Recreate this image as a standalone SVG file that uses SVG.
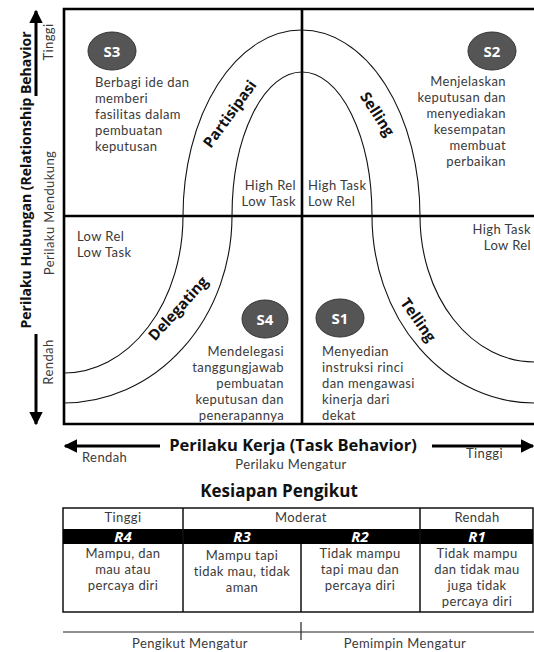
<svg xmlns="http://www.w3.org/2000/svg" width="534" height="652" viewBox="0 0 534 652">
<defs>
<style>
.t{font-family:Lato,"Open Sans",sans-serif;font-size:13px;letter-spacing:0.4px;fill:#3a3a3a}
.b{font-family:"Open Sans","Noto Sans",sans-serif;font-weight:bold;fill:#111}
.lab{font-family:"Open Sans","Noto Sans",sans-serif;font-weight:bold;font-size:15px;fill:#111}
.sc{font-family:"Open Sans","Noto Sans",sans-serif;font-weight:bold;font-size:15px;fill:#fff}
.r{font-family:"Open Sans","Noto Sans",sans-serif;font-weight:bold;font-style:italic;font-size:15px;fill:#fff}
.frame{stroke:#000;stroke-width:2.6;fill:none}
.curve{stroke:#111;stroke-width:1.1;fill:none}
.circ{fill:#555;stroke:#333;stroke-width:1}
.tab{stroke:#111;stroke-width:1.5;fill:none}
.ax{stroke:#000;stroke-width:3;fill:none}
</style>
<marker id="ah" viewBox="0 0 10 10" refX="9" refY="5" markerWidth="4.5" markerHeight="4.5" orient="auto-start-reverse" markerUnits="strokeWidth">
<path d="M0,0 L10,5 L0,10 z" fill="#000"/>
</marker>
</defs>
<rect width="534" height="652" fill="#fff"/>

<g id="connectors">
<path class="frame" d="M534,9 H64 V424 H534"/>
<path class="frame" d="M302,9 V424 M64,216 H534"/>
<path class="curve" d="M183,216 A118.5,186 0 0 1 420,216"/>
<path class="curve" d="M232,216 A70,144 0 0 1 372,216"/>
<path class="curve" d="M183,216 A119,157 0 0 1 64,373"/>
<path class="curve" d="M232,216 A168,187 0 0 1 64,403"/>
<path class="curve" d="M420,216 A114,146 0 0 0 534,362"/>
<path class="curve" d="M372,216 A162,187 0 0 0 534,403"/>
<line class="ax" x1="36" y1="96" x2="36" y2="11" marker-end="url(#ah)"/>
<line class="ax" x1="36" y1="334" x2="36" y2="424" marker-end="url(#ah)"/>
<line class="ax" x1="160" y1="446" x2="65" y2="446" marker-end="url(#ah)"/>
<line class="ax" x1="432" y1="446" x2="533" y2="446" marker-end="url(#ah)"/>
<rect class="tab" x="63" y="508" width="470" height="104"/>
<rect x="63" y="529" width="470" height="15" fill="#000"/>
<path class="tab" d="M183,508 V612 M420,508 V612 M301,544 V612"/>
<path stroke="#222" stroke-width="1.2" fill="none" d="M63,632 H534 M301,622 V640"/>
</g>

<g id="axis-y">
<text class="b" font-size="14" transform="translate(31,180) rotate(-90)" text-anchor="middle">Perilaku Hubungan (Relationship Behavior</text>
<text class="t" font-size="12" transform="translate(54,213) rotate(-90)" text-anchor="middle">Perilaku Mendukung</text>
<text class="t" font-size="10.5" transform="translate(53,42) rotate(-90)" text-anchor="middle">Tinggi</text>
<text class="t" font-size="10.5" transform="translate(53,362) rotate(-90)" text-anchor="middle">Rendah</text>
</g>

<g id="axis-x">
<text class="b" font-size="16.5" x="293" y="451" text-anchor="middle">Perilaku Kerja (Task Behavior)</text>
<text class="t" x="291" y="469" text-anchor="middle">Perilaku Mengatur</text>
<text class="t" font-size="12" x="82" y="462">Rendah</text>
<text class="t" font-size="12" x="503" y="458" text-anchor="end">Tinggi</text>
</g>

<g id="S3">
<ellipse class="circ" cx="112" cy="51" rx="24" ry="19"/>
<text class="sc" x="112" y="56.5" text-anchor="middle">S3</text>
<text class="t" x="95" y="87">Berbagi ide dan<tspan x="95" dy="16">memberi</tspan><tspan x="95" dy="16">fasilitas dalam</tspan><tspan x="95" dy="16">pembuatan</tspan><tspan x="95" dy="16">keputusan</tspan></text>
</g>

<g id="S2">
<ellipse class="circ" cx="492" cy="51" rx="24" ry="19"/>
<text class="sc" x="492" y="56.5" text-anchor="middle">S2</text>
<text class="t" text-anchor="end" x="506" y="86">Menjelaskan<tspan x="506" dy="16">keputusan dan</tspan><tspan x="506" dy="16">menyediakan</tspan><tspan x="506" dy="16">kesempatan</tspan><tspan x="506" dy="16">membuat</tspan><tspan x="506" dy="16">perbaikan</tspan></text>
</g>

<g id="S4">
<ellipse class="circ" cx="265" cy="319" rx="23" ry="19"/>
<text class="sc" x="265" y="324.5" text-anchor="middle">S4</text>
<text class="t" text-anchor="end" x="284" y="356">Mendelegasi<tspan x="284" dy="16">tanggungjawab</tspan><tspan x="284" dy="16">pembuatan</tspan><tspan x="284" dy="16">keputusan dan</tspan><tspan x="284" dy="16">penerapannya</tspan></text>
</g>

<g id="S1">
<ellipse class="circ" cx="340" cy="318" rx="24" ry="19"/>
<text class="sc" x="340" y="323.5" text-anchor="middle">S1</text>
<text class="t" x="322" y="356">Menyedian<tspan x="322" dy="16">instruksi rinci</tspan><tspan x="322" dy="16">dan mengawasi</tspan><tspan x="322" dy="16">kinerja dari</tspan><tspan x="322" dy="16">dekat</tspan></text>
</g>

<g id="quadrant-labels">
<text class="t" text-anchor="end" x="296" y="190">High Rel<tspan x="296" dy="16">Low Task</tspan></text>
<text class="t" x="308" y="190">High Task<tspan x="308" dy="16">Low Rel</tspan></text>
<text class="t" x="77" y="241">Low Rel<tspan x="77" dy="16">Low Task</tspan></text>
<text class="t" text-anchor="end" x="531" y="234">High Task<tspan x="531" dy="16">Low Rel</tspan></text>
</g>

<g id="curve-labels">
<text class="lab" text-anchor="middle" transform="translate(234,117) rotate(-54)">Partisipasi</text>
<text class="lab" text-anchor="middle" transform="translate(373,117) rotate(57)">Selling</text>
<text class="lab" text-anchor="middle" transform="translate(182,312) rotate(-48)">Delegating</text>
<text class="lab" text-anchor="middle" transform="translate(414,323) rotate(55)">Telling</text>
</g>

<g id="readiness">
<text class="b" font-size="17" x="279" y="497" text-anchor="middle">Kesiapan Pengikut</text>
<text class="t" font-size="12.5" x="123" y="522" text-anchor="middle">Tinggi</text>
<text class="t" font-size="12.5" x="301" y="522" text-anchor="middle">Moderat</text>
<text class="t" font-size="12.5" x="477" y="522" text-anchor="middle">Rendah</text>
<text class="r" x="123" y="542" text-anchor="middle">R4</text>
<text class="r" x="242" y="542" text-anchor="middle">R3</text>
<text class="r" x="360" y="542" text-anchor="middle">R2</text>
<text class="r" x="477" y="542" text-anchor="middle">R1</text>
<text class="t" x="123" y="558" text-anchor="middle">Mampu, dan<tspan x="123" dy="16">mau atau</tspan><tspan x="123" dy="16">percaya diri</tspan></text>
<text class="t" x="242" y="560" text-anchor="middle">Mampu tapi<tspan x="242" dy="16">tidak mau, tidak</tspan><tspan x="242" dy="16">aman</tspan></text>
<text class="t" x="360" y="558" text-anchor="middle">Tidak mampu<tspan x="360" dy="16">tapi mau dan</tspan><tspan x="360" dy="16">percaya diri</tspan></text>
<text class="t" x="477" y="558" text-anchor="middle">Tidak mampu<tspan x="477" dy="16">dan tidak mau</tspan><tspan x="477" dy="16">juga tidak</tspan><tspan x="477" dy="16">percaya diri</tspan></text>
</g>

<g id="bottom-scale">
<text class="t" x="190" y="648" text-anchor="middle">Pengikut Mengatur</text>
<text class="t" x="405" y="648" text-anchor="middle">Pemimpin Mengatur</text>
</g>
</svg>
